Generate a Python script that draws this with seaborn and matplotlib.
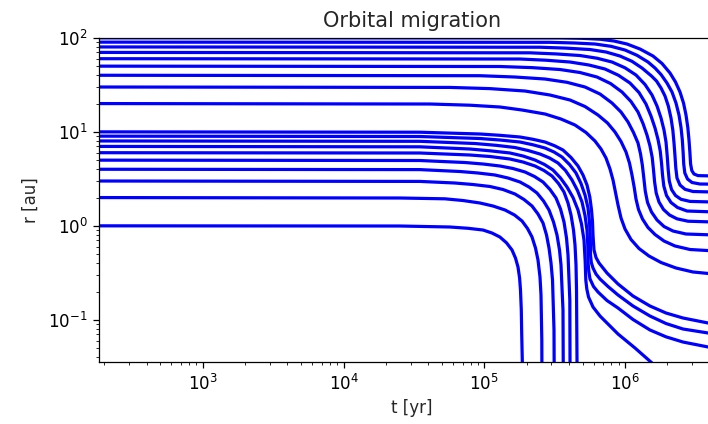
import matplotlib
matplotlib.use("Agg")
import matplotlib.pyplot as plt
import seaborn as sns
import pandas as pd

# Semi-major axis tracks r(t) for planets started at 1..10 au and 20..100 au
t_1au = [1e2, 2.52e4, 5.71e4, 7.66e4, 9.79e4, 1.134e5, 1.29e5, 1.438e5, 1.573e5, 1.665e5, 1.735e5,
         1.781e5, 1.807e5, 1.831e5, 1.843e5, 1.862e5, 1.868e5]
r_1au = [1.0, 0.995, 0.971, 0.941, 0.902, 0.838, 0.760, 0.659, 0.553, 0.454, 0.3645,
         0.278, 0.2075, 0.127, 0.0724, 0.0356, 0.0086]

t_2au = [1e2, 2.52e4, 5.26e4, 7.06e4, 9.32e4, 1.153e5, 1.403e5, 1.639e5, 1.853e5, 2.027e5, 2.182e5,
         2.310e5, 2.406e5, 2.486e5, 2.527e5, 2.561e5, 2.573e5]
r_2au = [2.0, 1.976, 1.937, 1.858, 1.748, 1.624, 1.473, 1.303, 1.125, 0.936, 0.760,
         0.580, 0.433, 0.285, 0.184, 0.061, 0.0086]

t_3au = [1e2, 3.49e4, 6.19e4, 8.31e4, 1.098e5, 1.358e5, 1.652e5, 1.914e5, 2.182e5, 2.406e5, 2.612e5,
         2.766e5, 2.881e5, 2.977e5, 3.051e5, 3.126e5, 3.147e5]
r_3au = [3.0, 2.967, 2.853, 2.750, 2.619, 2.433, 2.179, 1.905, 1.624, 1.335, 1.071,
         0.798, 0.580, 0.402, 0.265, 0.0779, 0.0086]

t_4au = [1e2, 3.49e4, 6.72e4, 9.02e4, 1.191e5, 1.473e5, 1.793e5, 2.077e5, 2.367e5, 2.634e5, 2.881e5,
         3.101e5, 3.283e5, 3.420e5, 3.505e5, 3.621e5, 3.651e5]
r_4au = [4.0, 3.962, 3.782, 3.646, 3.471, 3.225, 2.924, 2.587, 2.234, 1.836, 1.473,
         1.098, 0.798, 0.553, 0.383, 0.127, 0.0086]

t_5au = [1e2, 3.49e4, 7.29e4, 9.79e4, 1.293e5, 1.599e5, 1.946e5, 2.273e5, 2.612e5, 2.929e5, 3.231e5,
         3.477e5, 3.681e5, 3.835e5, 3.931e5, 4.049e5, 4.075e5]
r_5au = [5.0, 4.951, 4.714, 4.544, 4.327, 4.070, 3.736, 3.345, 2.924, 2.433, 1.976,
         1.509, 1.098, 0.742, 0.489, 0.162, 0.0086]

t_6au = [1e2, 3.49e4, 7.91e4, 1.098e5, 1.522e5, 1.883e5, 2.291e5, 2.655e5, 3.026e5, 3.365e5, 3.681e5,
         3.931e5, 4.128e5, 4.300e5, 4.407e5, 4.480e5, 4.517e5, 4.554e5, 4.569e5]
r_6au = [6.0, 5.951, 5.666, 5.461, 5.135, 4.771, 4.327, 3.875, 3.387, 2.818, 2.288,
         1.748, 1.303, 0.902, 0.625, 0.383, 0.2075, 0.0374, 0.0086]

t_7au = [1e2, 3.49e4, 7.91e4, 1.098e5, 1.522e5, 1.883e5, 2.291e5, 2.677e5, 3.075e5, 3.477e5, 3.867e5,
         4.266e5, 4.629e5, 4.901e5, 5.106e5, 5.207e5, 5.259e5, 5.346e5, 5.497e5, 5.916e5, 6.634e5,
         8.905e5, 1.176e6, 1.553e6, 1.920e6]
r_7au = [7.0, 6.924, 6.561, 6.281, 5.951, 5.529, 5.012, 4.488, 3.923, 3.225, 2.587,
         2.000, 1.473, 1.045, 0.706, 0.412, 0.265, 0.2127, 0.1748, 0.1368, 0.1097,
         0.0706, 0.0501, 0.0347, 0.0259]

t_8au = [1e2, 3.49e4, 8.59e4, 1.211e5, 1.652e5, 2.044e5, 2.486e5, 2.905e5, 3.338e5, 3.773e5, 4.197e5,
         4.591e5, 4.942e5, 5.191e5, 5.363e5, 5.434e5, 5.452e5, 5.524e5, 5.633e5, 5.965e5, 6.420e5,
         7.435e5, 8.905e5, 1.138e6, 1.502e6, 1.952e6, 2.578e6, 3.880e6, 5.040e6]
r_8au = [8.0, 7.925, 7.507, 7.184, 6.808, 6.327, 5.806, 5.265, 4.657, 3.875, 3.070,
         2.374, 1.791, 1.287, 0.902, 0.610, 0.412, 0.3265, 0.2717, 0.2261, 0.1975,
         0.1604, 0.1335, 0.1007, 0.0779, 0.0659, 0.0580, 0.0514, 0.0489]

t_9au = [1e2, 3.49e4, 9.32e4, 1.293e5, 1.793e5, 2.218e5, 2.699e5, 3.126e5, 3.563e5, 4.029e5, 4.480e5,
         4.862e5, 5.191e5, 5.452e5, 5.588e5, 5.661e5, 5.680e5, 5.754e5, 5.916e5, 6.213e5, 6.634e5,
         7.559e5, 8.905e5, 1.138e6, 1.502e6, 1.952e6, 2.578e6, 3.880e6, 5.040e6]
r_9au = [9.0, 8.913, 8.486, 8.179, 7.789, 7.273, 6.723, 6.097, 5.395, 4.488, 3.646,
         2.818, 2.127, 1.547, 1.098, 0.742, 0.489, 0.407, 0.3557, 0.3071, 0.2717,
         0.2261, 0.1836, 0.1402, 0.1097, 0.0913, 0.0798, 0.0724, 0.0689]

t_10au = [1e2, 3.49e4, 9.325e4, 1.293e5, 1.793e5, 2.218e5, 2.699e5, 3.152e5, 3.621e5, 4.128e5, 4.629e5,
          5.023e5, 5.363e5, 5.615e5, 5.773e5, 5.868e5, 5.916e5, 5.965e5, 6.013e5, 6.213e5, 6.527e5,
          7.435e5, 8.905e5, 1.138e6, 1.502e6, 1.952e6, 2.578e6, 3.880e6, 5.040e6]
r_10au = [10.0, 9.902, 9.476, 9.178, 8.805, 8.324, 7.789, 7.114, 6.402, 5.329, 4.327,
          3.471, 2.716, 2.025, 1.473, 1.098, 0.798, 0.656, 0.553, 0.460, 0.402,
          0.3147, 0.2404, 0.1791, 0.1402, 0.1181, 0.1045, 0.0925, 0.0881]

t_20au = [1e2, 4.114e4, 7.91e4, 1.293e5, 1.853e5, 2.699e5, 3.505e5, 4.407e5, 5.277e5, 6.111e5, 6.743e5,
          7.315e5, 7.811e5, 8.205e5, 8.548e5, 8.905e5, 9.352e5, 9.984e5, 1.101e6, 1.255e6, 1.478e6,
          1.799e6, 2.298e6, 3.035e6, 5.040e6]
r_20au = [20.0, 19.76, 19.19, 18.36, 17.06, 15.47, 13.68, 11.81, 9.83, 7.98, 6.56,
          5.265, 4.02, 3.070, 2.261, 1.664, 1.211, 0.925, 0.715, 0.5735, 0.477,
          0.407, 0.3557, 0.3226, 0.2996]

t_30au = [1e2, 5.707e4, 1.098e5, 1.946e5, 2.929e5, 4.062e5, 5.191e5, 6.420e5, 7.499e5, 8.478e5, 9.352e5,
          1.015e6, 1.074e6, 1.119e6, 1.161e6, 1.195e6, 1.245e6, 1.329e6, 1.454e6, 1.631e6, 1.889e6,
          2.261e6, 2.890e6, 5.040e6]
r_30au = [30.0, 29.67, 28.81, 27.16, 24.63, 21.79, 18.58, 15.09, 12.41, 9.95, 7.885,
          6.097, 4.657, 3.471, 2.555, 1.928, 1.491, 1.181, 0.959, 0.808, 0.689,
          0.610, 0.5597, 0.5328]

t_40au = [1e2, 9.325e4, 1.652e5, 2.699e5, 3.867e5, 5.191e5, 6.634e5, 8.072e5, 9.352e5, 1.049e6, 1.147e6,
          1.235e6, 1.287e6, 1.325e6, 1.358e6, 1.390e6, 1.443e6, 1.540e6, 1.685e6, 1.889e6, 2.189e6,
          2.707e6, 5.040e6]
r_40au = [40.0, 39.53, 38.28, 36.45, 33.62, 29.97, 25.24, 20.25, 16.24, 12.72, 9.83,
          7.60, 5.806, 4.436, 3.225, 2.346, 1.770, 1.402, 1.153, 0.983, 0.880,
          0.818, 0.792]

t_50au = [1e2, 1.293e5, 2.182e5, 3.449e5, 4.784e5, 6.315e5, 7.875e5, 9.506e5, 1.101e6, 1.235e6, 1.340e6,
          1.430e6, 1.502e6, 1.558e6, 1.591e6, 1.620e6, 1.663e6, 1.741e6, 1.874e6, 2.067e6, 2.336e6,
          2.797e6, 5.040e6]
r_50au = [50.0, 49.52, 48.19, 46.00, 42.74, 38.28, 32.65, 26.51, 21.01, 16.24, 12.25,
          9.247, 7.064, 5.329, 3.923, 2.924, 2.234, 1.791, 1.491, 1.303, 1.187,
          1.119, 1.089]

t_60au = [1e2, 1.793e5, 2.743e5, 4.062e5, 5.541e5, 7.197e5, 8.978e5, 1.083e6, 1.255e6, 1.407e6, 1.527e6,
          1.631e6, 1.713e6, 1.776e6, 1.814e6, 1.844e6, 1.883e6, 1.968e6, 2.118e6, 2.356e6, 2.752e6,
          5.040e6]
r_60au = [60.0, 59.50, 57.77, 55.28, 51.36, 46.57, 39.92, 33.04, 26.18, 19.76, 14.73,
          10.97, 8.282, 6.249, 4.657, 3.471, 2.651, 2.101, 1.770, 1.566, 1.437,
          1.392]

t_70au = [1e2, 2.112e5, 3.231e5, 4.784e5, 6.315e5, 8.072e5, 9.984e5, 1.195e6, 1.385e6, 1.553e6, 1.685e6,
          1.799e6, 1.889e6, 1.952e6, 1.991e6, 2.024e6, 2.060e6, 2.136e6, 2.280e6, 2.495e6, 2.890e6,
          5.040e6]
r_70au = [70.0, 69.25, 67.41, 64.82, 60.67, 55.28, 47.96, 40.20, 31.86, 24.63, 18.82,
          14.02, 10.45, 7.789, 5.529, 3.923, 2.996, 2.433, 2.101, 1.914, 1.818,
          1.778]

t_80au = [1e2, 2.486e5, 3.804e5, 5.633e5, 7.315e5, 9.201e5, 1.119e6, 1.318e6, 1.540e6, 1.671e6, 1.799e6,
          1.920e6, 2.027e6, 2.118e6, 2.182e6, 2.225e6, 2.261e6, 2.291e6, 2.336e6, 2.454e6, 2.664e6,
          3.035e6, 5.040e6]
r_80au = [80.0, 79.43, 77.69, 75.08, 70.63, 64.03, 56.23, 47.72, 39.23, 34.71, 29.24,
          24.04, 18.82, 14.02, 10.45, 7.601, 5.529, 4.120, 3.225, 2.716, 2.445,
          2.317, 2.272]

t_90au = [1e2, 2.929e5, 4.407e5, 6.111e5, 7.941e5, 9.984e5, 1.215e6, 1.454e6, 1.631e6, 1.799e6, 1.984e6,
          2.153e6, 2.298e6, 2.414e6, 2.495e6, 2.549e6, 2.582e6, 2.608e6, 2.655e6, 2.775e6, 2.987e6,
          3.404e6, 5.040e6]
r_90au = [90.0, 89.57, 88.06, 85.91, 81.21, 74.17, 65.14, 55.28, 47.72, 40.70, 33.04,
          26.51, 20.25, 15.09, 11.11, 8.179, 6.097, 4.544, 3.646, 3.147, 2.888,
          2.784, 2.764]

t_100au = [1e2, 3.449e5, 4.942e5, 6.634e5, 8.340e5, 1.032e6, 1.276e6, 1.578e6, 1.829e6, 2.084e6, 2.280e6,
           2.454e6, 2.599e6, 2.707e6, 2.788e6, 2.843e6, 2.885e6, 2.918e6, 2.976e6, 3.085e6, 3.295e6,
           5.040e6]
r_100au = [100.0, 99.75, 98.78, 96.63, 92.47, 85.91, 76.01, 64.03, 53.30, 42.22, 33.86,
           26.51, 20.25, 15.09, 11.11, 8.179, 6.023, 4.544, 3.875, 3.557, 3.420,
           3.371]

tracks = [
    (1, t_1au, r_1au), (2, t_2au, r_2au), (3, t_3au, r_3au), (4, t_4au, r_4au),
    (5, t_5au, r_5au), (6, t_6au, r_6au), (7, t_7au, r_7au), (8, t_8au, r_8au),
    (9, t_9au, r_9au), (10, t_10au, r_10au), (20, t_20au, r_20au), (30, t_30au, r_30au),
    (40, t_40au, r_40au), (50, t_50au, r_50au), (60, t_60au, r_60au), (70, t_70au, r_70au),
    (80, t_80au, r_80au), (90, t_90au, r_90au), (100, t_100au, r_100au),
]

df = pd.concat(
    [pd.DataFrame({"r0": r0, "t": t, "r": r}) for r0, t, r in tracks],
    ignore_index=True,
)

sns.set_theme(style="ticks")
plt.rcParams["font.family"] = ["DejaVu Sans"]

fig = plt.figure(figsize=(7.08, 4.24), dpi=100)
ax = fig.add_axes([0.1394, 0.1455, 0.8839, 0.7653])

sns.lineplot(data=df, x="t", y="r", units="r0", estimator=None, sort=False,
             color="#0000ff", linewidth=2.3, ax=ax, legend=False)
for line in ax.get_lines():
    line.set_solid_joinstyle("round")
    line.set_solid_capstyle("round")

ax.set_xscale("log")
ax.set_yscale("log")
ax.set_xlim(182.5, 5.08e6)
ax.set_ylim(0.0353, 100)

for side in ("left", "bottom", "top", "right"):
    ax.spines[side].set_color("black")
    ax.spines[side].set_linewidth(0.9)

ax.tick_params(which="major", direction="out", length=4.5, width=0.9, labelsize=12,
               colors="black", top=False, right=False)
ax.tick_params(which="minor", direction="out", length=2.5, width=0.7,
               top=False, right=False)

ax.set_xlabel("t [yr]", fontsize=12)
ax.set_ylabel("r [au]", fontsize=12, labelpad=6)
ax.set_title("Orbital migration", fontsize=15, pad=8)

fig.savefig("out.png", dpi=100)
